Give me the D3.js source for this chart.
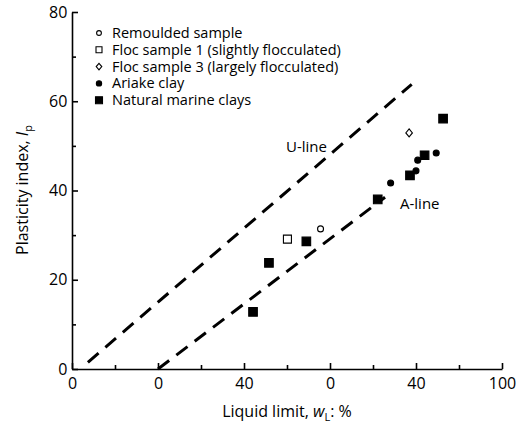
<!DOCTYPE html>
<html><head><meta charset="utf-8">
<script src="https://cdn.jsdelivr.net/npm/d3@7"></script>
<style>body{margin:0;background:#fff}text{font-family:"Open Sans",sans-serif}</style>
</head><body><svg id="c" width="520" height="429"></svg>
<script>
// tick labels as printed in the figure
const xTicks = [0, 20, 40, 60, 80, 100];
const xTickLabels = ["0", "0", "40", "0", "40", "100"];
const yTicks = [0, 20, 40, 60, 80];

const uLine = [[3.7, 1.5], [79, 63.8]];
const aLine = [[20, 0], [72.8, 38.5]];

const remoulded = [[57.8, 31.4]];
const floc1 = [[50.1, 29.1]];
const floc3 = [[78.4, 52.9]];
const ariake = [[74.1, 41.7], [80.4, 46.8], [80.0, 44.4], [84.7, 48.4]];
const marine = [[71.1, 38.0], [86.3, 56.1], [82.0, 47.9], [78.6, 43.4], [54.5, 28.6], [45.8, 23.8], [42.1, 12.8]];

const svg = d3.select("#c");
const x = d3.scaleLinear().domain([0, 100]).range([72, 502]);
const y = d3.scaleLinear().domain([0, 80]).range([369, 12]);

const xAxis = svg.append("g").attr("transform", "translate(0,369)")
  .call(d3.axisBottom(x).tickValues(xTicks).tickSize(-6)
    .tickFormat((d, i) => xTickLabels[i]).tickSizeOuter(0));
svg.append("g").attr("transform", "translate(0,369)")
  .call(d3.axisBottom(x).tickValues([10, 30, 50, 70, 90]).tickSize(-4).tickFormat("").tickSizeOuter(0))
  .select(".domain").remove();
const yAxis = svg.append("g").attr("transform", "translate(72,0)")
  .call(d3.axisLeft(y).tickValues(yTicks).tickSize(-6).tickSizeOuter(0));
svg.append("g").attr("transform", "translate(72,0)")
  .call(d3.axisLeft(y).tickValues([10, 30, 50, 70]).tickSize(-4).tickFormat("").tickSizeOuter(0))
  .select(".domain").remove();
svg.selectAll(".tick line,.domain").attr("stroke", "#000").attr("stroke-width", 1.6);
xAxis.selectAll("text").attr("font-size", 16).attr("dy", "1.05em").attr("fill", "#000");
yAxis.selectAll("text").attr("font-size", 16).attr("dx", "-0.1em").attr("fill", "#000");

svg.append("text").attr("x", 287).attr("y", 417).attr("text-anchor", "middle").attr("font-size", 16)
  .html('Liquid limit, <tspan font-style="italic">w</tspan><tspan font-size="11" dy="4">L</tspan><tspan dy="-4">: %</tspan>');
svg.append("text").attr("transform", "translate(28,190) rotate(-90)").attr("text-anchor", "middle").attr("font-size", 16)
  .html('Plasticity index, <tspan font-style="italic">I</tspan><tspan font-size="11" dy="4">p</tspan>');

const line = d3.line().x(d => x(d[0])).y(d => y(d[1]));
[uLine, aLine].forEach(l => svg.append("path").attr("d", line(l)).attr("fill", "none")
  .attr("stroke", "#000").attr("stroke-width", 3).attr("stroke-dasharray", "14,9"));
svg.append("text").attr("x", 286).attr("y", 152).attr("font-size", 15).text("U-line");
svg.append("text").attr("x", 400).attr("y", 209).attr("font-size", 15).text("A-line");

function draw(data, shape, filled) {
  svg.selectAll(null).data(data).enter().append("path")
    .attr("d", shape)
    .attr("transform", d => `translate(${x(d[0])},${y(d[1])})`)
    .attr("fill", filled ? "#000" : "#fff").attr("stroke", "#000").attr("stroke-width", 1.1);
}
const sqr = "M-4,-4H4V4H-4Z", sqrBig = "M-4.3,-4.3H4.3V4.3H-4.3Z";
const circ = d3.symbol(d3.symbolCircle, 28)();
const dia = "M0,-4L3.3,0L0,4L-3.3,0Z";
draw(remoulded, circ, false);
draw(floc1, sqr, false);
draw(floc3, dia, false);
draw(ariake, circ, true);
draw(marine, sqrBig, true);

const legend = [
  ["Remoulded sample", d3.symbol(d3.symbolCircle, 18)(), false],
  ["Floc sample 1 (slightly flocculated)", "M-3,-3H3V3H-3Z", false],
  ["Floc sample 3 (largely flocculated)", "M0,-3.3L2.8,0L0,3.3L-2.8,0Z", false],
  ["Ariake clay", d3.symbol(d3.symbolCircle, 22)(), true],
  ["Natural marine clays", "M-3.5,-3.5H3.5V3.5H-3.5Z", true]
];
legend.forEach((l, i) => {
  const yy = 33 + i * 16.8;
  svg.append("path").attr("d", l[1]).attr("transform", `translate(99,${yy})`)
    .attr("fill", l[2] ? "#000" : "#fff").attr("stroke", "#000").attr("stroke-width", 1.1);
  svg.append("text").attr("x", 112).attr("y", yy + 5).attr("font-size", 14.5).text(l[0]);
});
</script></body></html>
